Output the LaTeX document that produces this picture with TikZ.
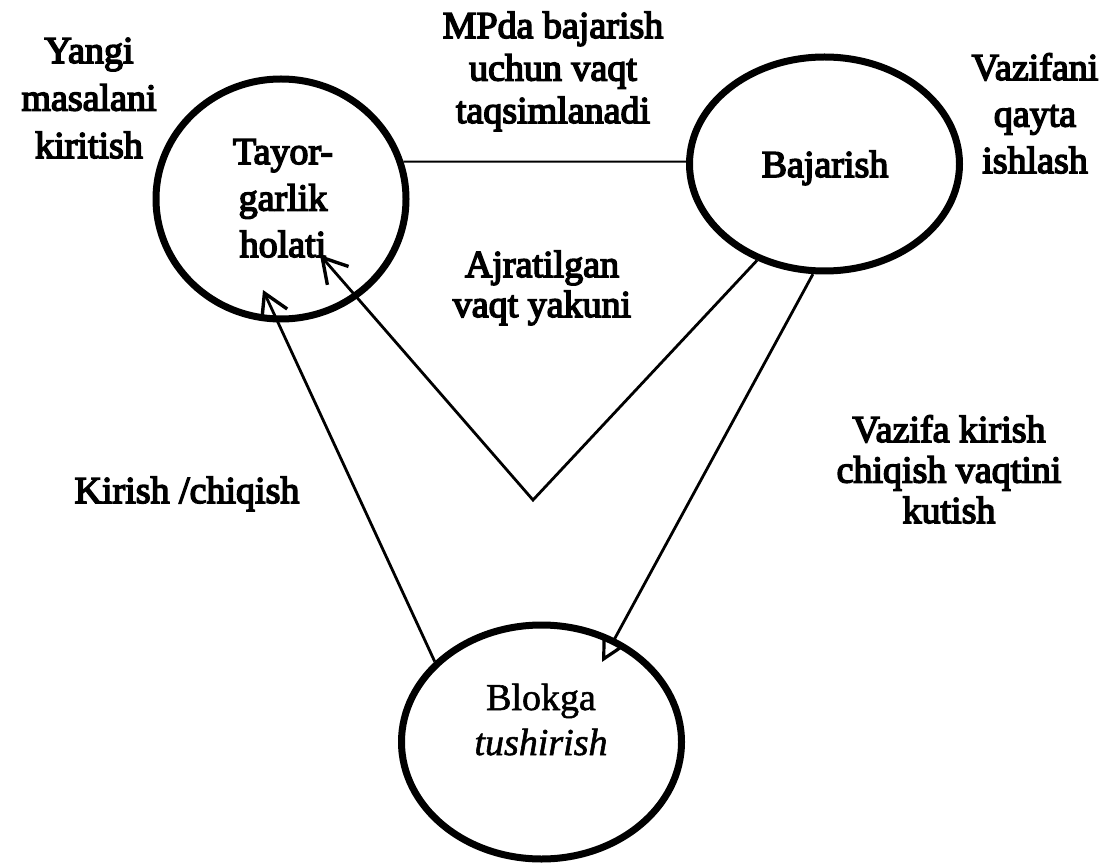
\documentclass[tikz,border=0pt]{standalone}
\usepackage{fontspec}
\setmainfont{Liberation Serif}[FakeBold=4]
\newfontfamily\lightserif{Liberation Serif}[FakeBold=1.5]
\usetikzlibrary{arrows.meta,shapes.geometric}
\newcommand\mylbl[2]{\fontsize{38}{#1}\selectfont\begin{tabular}[t]{@{}c@{}}#2\end{tabular}}
\begin{document}
\begin{tikzpicture}[x=1pt,y=-1pt,
  state/.style={draw, ellipse, line width=7pt, inner sep=0pt},
  conn/.style={line width=2.8pt},
  thinconn/.style={line width=2pt},
  txt/.style={anchor=base, inner sep=0pt, font=\fontsize{38}{46}\selectfont},
  barb/.style={-{Straight Barb[length=24pt,width=28pt,line width=3.4pt]}},
  tri/.style={-{Triangle[open,length=24pt,width=24pt,line width=3.2pt]}}]
\useasboundingbox (0,0) rectangle (1105,866);
\node[state, minimum width=250pt, minimum height=240pt] (A) at (281,199) {};
\node[state, minimum width=270pt, minimum height=214pt] (B) at (824.5,164) {};
\node[state, minimum width=280pt, minimum height=234pt] (C) at (541.5,742) {};

\coordinate (vbot) at (533,500);
\coordinate (tipA1) at (320,255);
\coordinate (tipA2) at (263,290);
\coordinate (tipC) at (602,662);

\draw[thinconn] (A.17) -- (B.179);
\draw[conn,barb] (B.235) -- (vbot) -- (tipA1);
\draw[conn,barb] (C.143) -- (tipA2);
\draw[conn,tri] (B.264) -- (tipC);

\node[txt] (yangi) at (89,63) {\mylbl{47.5}{Yangi\\masalani\\kiritish}};
\node[txt] (mpda) at (553,38) {\mylbl{42.5}{MPda bajarish\\uchun vaqt\\taqsimlanadi}};
\node[txt] (vazqayta) at (1035,80) {\mylbl{46.5}{Vazifani\\qayta\\ishlash}};
\node[txt] (tayor) at (283,164) {\mylbl{46.5}{Tayor-\\garlik\\holati}};
\node[txt] (bajar) at (825,177) {Bajarish};
\node[txt] (ajrat) at (542,277) {\mylbl{40}{Ajratilgan\\vaqt yakuni}};
\node[txt] (kirish) at (187,503) {Kirish /chiqish};
\node[txt] (vazkir) at (949,442) {\mylbl{40.5}{Vazifa kirish\\chiqish vaqtini\\kutish}};
\node[txt] (blok) at (541,710) {\lightserif\mylbl{45}{Blokga\\\itshape tushirish}};
\end{tikzpicture}
\end{document}
